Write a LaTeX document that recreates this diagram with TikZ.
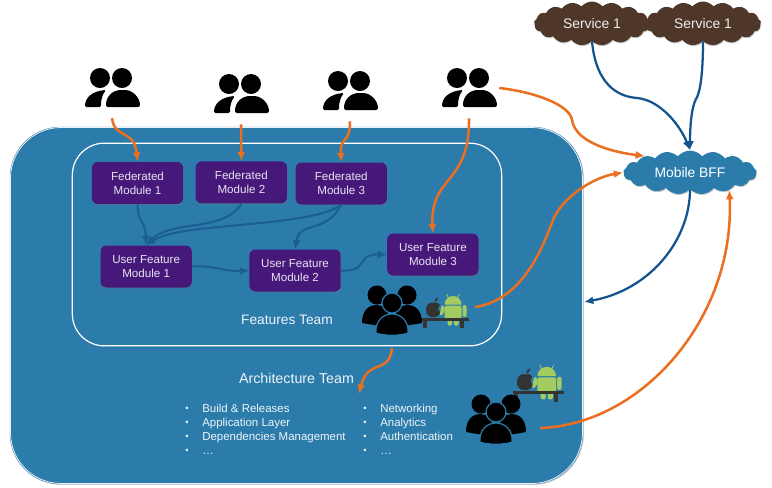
\documentclass[tikz,border=0pt]{standalone}
\usepackage{fontspec}
\setmainfont{Liberation Sans}
\newlength{\hdist}
\newlength{\vdist}
\usepackage{tikz}
\usetikzlibrary{positioning}
\usetikzlibrary{arrows.meta}
\usetikzlibrary{shapes.symbols}
\usetikzlibrary{shadows}
\definecolor{panelblue}{HTML}{2B7BAB}
\definecolor{modpurple}{HTML}{45187A}
\definecolor{woodbrown}{HTML}{4E3628}
\definecolor{callorange}{HTML}{EA6F20}
\definecolor{depblue}{HTML}{1C5E92}
\definecolor{apiblue}{HTML}{14548E}
\definecolor{droidgreen}{HTML}{A4CB5F}
\tikzstyle{panel}=[rectangle, rounded corners=38pt, fill=panelblue, minimum width=430pt, minimum height=268pt, drop shadow={shadow xshift=.6pt, shadow yshift=-.6pt, opacity=.35}]
\tikzstyle{teamplate}=[draw=white, rectangle, rounded corners=24pt, line width=0.9pt, minimum width=322pt, minimum height=152pt]
\tikzstyle{edgeline}=[draw=white!90!panelblue, rectangle, rounded corners=38pt, line width=0.6pt, minimum width=429pt, minimum height=267pt]
\tikzstyle{mod}=[rectangle, rounded corners=4.5pt, fill=modpurple, text=white!88!modpurple, align=center, minimum width=68.5pt, minimum height=31.5pt, font=\fontsize{8.7}{10.5}\selectfont, drop shadow={shadow xshift=.4pt, shadow yshift=-.7pt, opacity=.4}]
\tikzstyle{svc}=[cloud, cloud puffs=17, cloud puff arc=100, aspect=2.8, inner sep=0pt, minimum width=87pt, minimum height=33pt, fill=woodbrown, text=white!92!woodbrown, font=\fontsize{10.4}{12}\selectfont, drop shadow={shadow xshift=.4pt, shadow yshift=-.8pt, opacity=.4}]
\tikzstyle{bff}=[svc, minimum width=100pt, minimum height=30pt, fill=panelblue, text=white]
\tikzstyle{people}=[inner sep=0pt, minimum size=45pt]
\tikzstyle{label}=[text=white!92!panelblue, font=\fontsize{10.3}{12}\selectfont]
\tikzstyle{listtext}=[text=white!92!panelblue, align=left, anchor=north west, inner sep=0pt, font=\fontsize{8.6}{10.5}\selectfont]
\tikzstyle{call}=[draw=callorange, line width=1.9pt]
\tikzstyle{dep}=[draw=depblue, line width=1.5pt]
\tikzstyle{api}=[draw=apiblue, line width=1.7pt]
\newcommand{\itm}[1]{\makebox[12.75pt][l]{\raisebox{.6pt}{\scriptsize\textbullet}}#1}
\tikzset{
	pics/pairicon/.style={code={
		\fill[black] (-12,-10) circle (10);
		\fill[black] (10,-10) circle (10);
		\fill[black, rounded corners=1.5pt] (-2.5,19) -- (-6,19) .. controls (-6,8) and (1,2) .. (11,2) .. controls (21,2) and (28,10) .. (28,19) -- cycle;
		\fill[black, rounded corners=1pt] (-27,19) .. controls (-27,10) and (-20,3) .. (-6,2) .. controls (-10,7) and (-11,12) .. (-11,19) -- cycle;
	}},
	pics/teamicon/.style={code={
		\fill[black] (-15,-20) circle (9.5);
		\fill[black] (15,-20) circle (9.5);
		\fill[black] (-30,8) .. controls (-30,-4) and (-24,-10) .. (-15,-10) .. controls (-8,-10) and (-4,-4) .. (0,10) -- (-6,12) -- cycle;
		\fill[black] (30,8) .. controls (30,-4) and (24,-10) .. (15,-10) .. controls (8,-10) and (4,-4) .. (0,10) -- (6,12) -- cycle;
		\filldraw[fill=black, draw=panelblue, line width=.9pt] (0,-12) circle (10);
		\filldraw[fill=black, draw=panelblue, line width=.9pt] (-16,18) .. controls (-17,6) and (-9,-1) .. (0,-1) .. controls (9,-1) and (17,6) .. (16,18) .. controls (8,21) and (-8,21) .. (-16,18) -- cycle;
	}},
	pics/benchicon/.style={code={
		\fill[black!80] (-19.5,-8) .. controls (-19,-15) and (-15,-16) .. (-12,-15) .. controls (-9,-16) and (-6,-15) .. (-5.5,-13) .. controls (-8,-11) and (-8,-7) .. (-5,-6) .. controls (-6,-3) and (-8,-1) .. (-10,-1) -- (-15,-1) .. controls (-18,-2) and (-20,-5) .. (-19.5,-8) -- cycle;
		\fill[black!80] (-11.5,-16) .. controls (-11,-19) and (-9,-20) .. (-7.5,-20.5) .. controls (-7.5,-18) and (-9,-16) .. (-11.5,-16) -- cycle;
		\fill[droidgreen] (-1,-13.5) arc (180:360:8.5) -- cycle;
		\fill[droidgreen, rounded corners=1.5pt] (-1,-12.5) rectangle (16,1);
		\fill[droidgreen, rounded corners=1.5pt] (-4,-13) -- (-1,-12.5) -- (-1,-5) -- (-6,-2) -- cycle;
		\fill[droidgreen, rounded corners=1.5pt] (17,-13) rectangle (21,-1);
		\fill[droidgreen, rounded corners=1pt] (2,0) rectangle (6.5,7.5);
		\fill[droidgreen, rounded corners=1pt] (8.5,0) rectangle (13,7.5);
		\draw[-, droidgreen, line width=.6pt] (3,-20) -- (1,-24);
		\draw[-, droidgreen, line width=.6pt] (12,-20) -- (14,-24);
		\fill[black!80] (-23.5,0) rectangle (23.5,3);
		\fill[black!80] (-22.5,3) rectangle (-18.5,10);
		\fill[black!80] (14,3) rectangle (18,10);
	}},
}
\begin{document}
\begin{tikzpicture}[x=0.75pt, y=-0.75pt, inner sep=0cm, -{Latex[length=7pt, width=6pt]}]
	
	\setlength{\hdist}{9pt}
	\setlength{\vdist}{30.75pt}
	
	\useasboundingbox (0,0) rectangle (772,487);
	
	\node (outer) [panel] at (296.5,305.5) {};
	\node (outerline) [edgeline] at (296.5,305.5) {};
	\node (inner) [teamplate] at (287,244.5) {};
	
	\node (fedA) [mod] at (137.5,183) {Federated\\Module 1};
	\node (fedB) [mod, right=\hdist of fedA, yshift=0.4pt] {Federated\\Module 2};
	\node (fedC) [mod, right=6pt of fedB, yshift=-0.8pt] {Federated\\Module 3};
	\node (userA) [mod, below=\vdist of fedA, xshift=6.5pt] {User Feature\\Module 1};
	\node (userB) [mod, right=42.75pt of userA, yshift=-3pt] {User Feature\\Module 2};
	\node (userC) [mod, right=34.5pt of userB, yshift=12pt] {User Feature\\Module 3};
	
	\node (svcA) [svc] at (592,23.5) {Service 1};
	\node (svcB) [svc] at (703,23.5) {Service 1};
	\node (mobile) [bff] at (690,172.5) {Mobile BFF\hspace{7.5pt}};
	
	\node (pairA) [people] at (112,88) {};
	\node (pairB) [people] at (241,94) {};
	\node (pairC) [people] at (350,91) {};
	\node (pairD) [people] at (469,88) {};
	\pic at (pairA) {pairicon};
	\pic at (pairB) {pairicon};
	\pic at (pairC) {pairicon};
	\pic at (pairD) {pairicon};
	
	\node (teamA) [people] at (392,318) {};
	\node (teamB) [people] at (496,424) {};
	\pic at (445.5,318) {benchicon};
	\pic [scale=1.1] at (538.5,391) {benchicon};
	\pic at (392,315) {teamicon};
	\pic at (496,424) {teamicon};
	
	\node (featlabel) [label] at (287,320) {Features Team};
	\node (archlabel) [label, font=\fontsize{10.7}{13}\selectfont] at (296.5,378) {Architecture Team};
	\node (listA) [listtext] at (185,404) {\itm{Build \& Releases}\\\itm{Application Layer}\\\itm{Dependencies Management}\\\itm{…}};
	\node (listB) [listtext] at (363,404) {\itm{Networking}\\\itm{Analytics}\\\itm{Authentication}\\\itm{…}};
	
	\coordinate (benchA) at (475,307);
	\coordinate (benchB) at (540,428);
	\coordinate (edgeR) at (584,302);
	\coordinate (archend) at (359,394);
	
	\draw [call] (pairA.south) .. controls (115,140) and (134,128) .. (fedA.north);
	\draw [call] (pairB.south) to (fedB.north);
	\draw [call] (pairC.south) .. controls (350,145) and (340,135) .. (fedC.north);
	\draw [call] (pairD.south) .. controls (470,185) and (430,175) .. (userC.north);
	\draw [call] (pairD.east) .. controls (535,92) and (570,105) .. (572,120) .. controls (576,145) and (620,153) .. (mobile.160);
	\draw [call] (benchA) .. controls (520,300) and (540,255) .. (553,220) .. controls (561,200) and (590,178) .. (mobile.west);
	\draw [call] (benchB) .. controls (640,425) and (735,320) .. (mobile.-24);
	\draw [call] (teamA.south) .. controls (389,375) and (368,358) .. (archend);
	
	\draw [dep] (fedA.south) .. controls (138,225) and (145,218) .. (userA.north);
	\draw [dep] (fedB.south) .. controls (225,232) and (170,220) .. (userA.north);
	\draw [dep] (fedC.south) .. controls (310,228) and (180,222) .. (userA.north);
	\draw [dep] (fedC.south) .. controls (325,235) and (300,220) .. (userB.north);
	\draw [dep] (userA.east) .. controls (215,265) and (225,272) .. (userB.west);
	\draw [dep] (userB.east) .. controls (370,272) and (355,254) .. (userC.west);
	
	\draw [api] (svcA.south) .. controls (595,75) and (610,96) .. (637,98) .. controls (660,100) and (680,125) .. (mobile.north);
	\draw [api] (svcB.south) .. controls (703,75) and (700,93) .. (696,99) .. controls (691,108) and (690,130) .. (mobile.north);
	\draw [api] (mobile.south) .. controls (690,240) and (650,290) .. (edgeR);
\end{tikzpicture}
\end{document}
